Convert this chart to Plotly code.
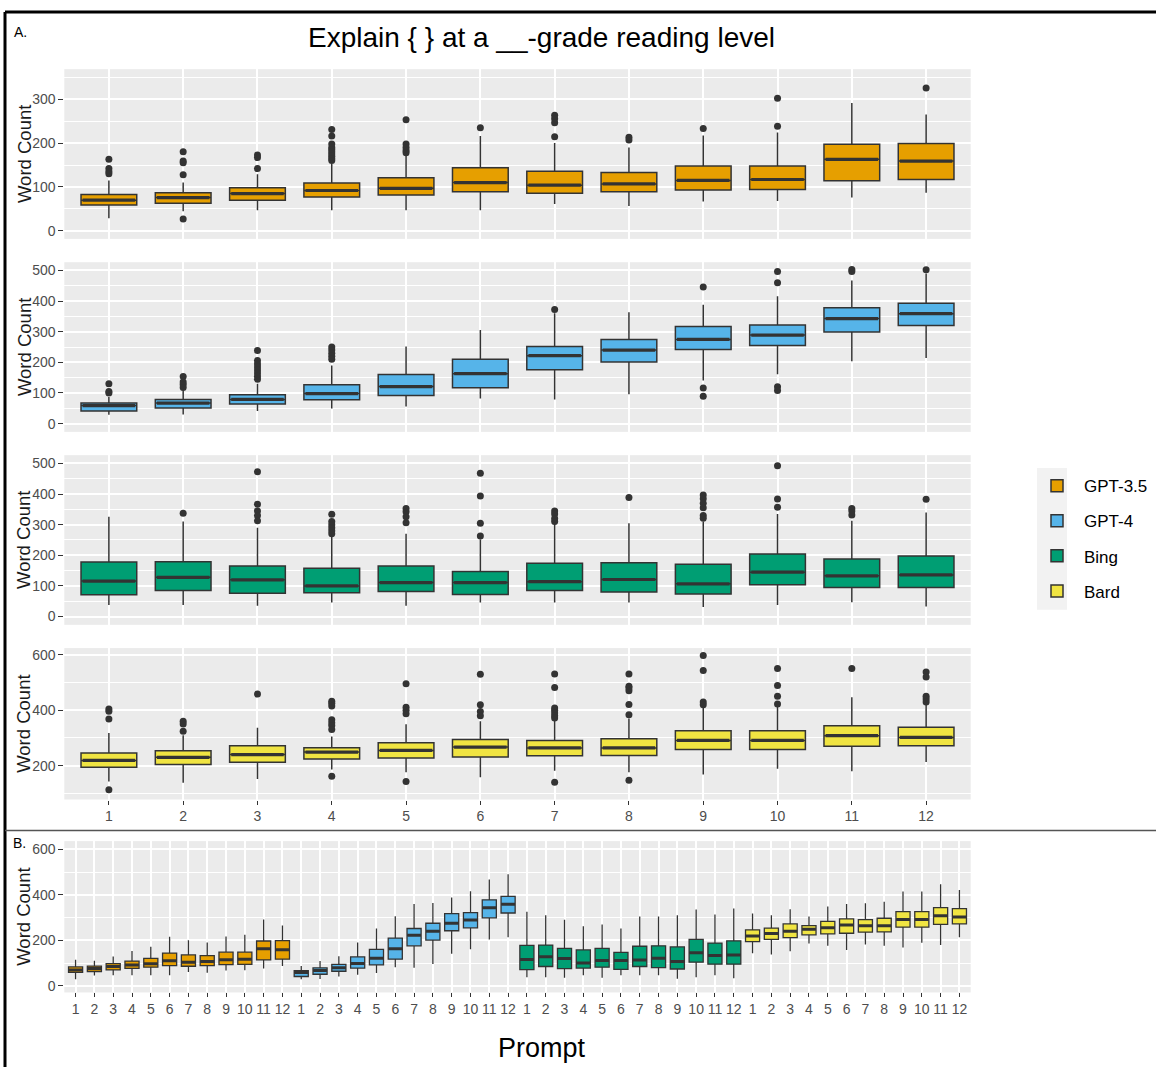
import plotly.graph_objects as go

W, H = 1156, 1068

# ---------------- data ----------------
prompts = list(range(1, 13))
models = ["GPT-3.5", "GPT-4", "Bing", "Bard"]
colors = ["#E69F00", "#56B4E9", "#009E73", "#F0E442"]

gpt35_q1 = [59, 63, 70, 77, 82, 89, 86, 89, 93, 94, 114, 117]
gpt35_med = [70, 76, 85, 92, 97, 110, 104, 107, 115, 117, 163, 159]
gpt35_q3 = [83, 87, 98, 109, 121, 144, 136, 133, 148, 148, 197, 199]
gpt35_lo = [29, 45, 47, 47, 47, 47, 61, 57, 67, 68, 76, 87]
gpt35_hi = [115, 110, 129, 153, 172, 216, 200, 190, 217, 224, 291, 265]
gpt35_out = [[163, 142, 135, 130], [180, 159, 155, 128, 27], [173, 167, 142],
             [231, 216, 198, 190, 185, 180, 175, 170, 165, 160],
             [253, 198, 190, 183, 178], [235], [263, 255, 246, 214], [213, 207],
             [233], [302, 238], [], [325]]

gpt4_q1 = [41, 51, 64, 78, 92, 117, 176, 201, 242, 255, 299, 320]
gpt4_med = [59, 67, 79, 98, 121, 163, 222, 240, 275, 289, 343, 359]
gpt4_q3 = [67, 79, 94, 127, 160, 210, 252, 275, 317, 322, 378, 393]
gpt4_lo = [29, 30, 41, 49, 56, 82, 79, 96, 141, 161, 204, 214]
gpt4_hi = [87, 109, 130, 190, 252, 306, 360, 364, 388, 416, 467, 490]
gpt4_out = [[130, 105, 100], [154, 136, 128, 118],
            [239, 206, 195, 185, 175, 165, 155, 145],
            [250, 240, 230, 220, 210], [], [], [373], [], [446, 116, 89],
            [497, 460, 120, 108], [503, 497], [502]]

bing_q1 = [71, 85, 76, 78, 82, 72, 85, 80, 74, 104, 95, 95]
bing_med = [116, 128, 120, 100, 111, 111, 114, 121, 107, 145, 133, 136]
bing_q3 = [178, 179, 165, 158, 165, 147, 174, 176, 171, 204, 188, 198]
bing_lo = [38, 38, 35, 46, 35, 46, 46, 46, 31, 38, 47, 33]
bing_hi = [326, 310, 290, 262, 270, 252, 305, 305, 310, 335, 313, 340]
bing_out = [[], [337], [473, 367, 345, 330, 313], [334, 310, 300, 290, 280, 270],
            [353, 342, 326, 306], [468, 394, 305, 263], [345, 335, 320, 310],
            [389], [397, 385, 370, 355, 330, 321], [492, 384, 357],
            [353, 345, 332], [383]]

bard_q1 = [194, 204, 212, 224, 228, 231, 236, 237, 258, 258, 270, 272]
bard_med = [219, 230, 240, 249, 255, 267, 264, 264, 291, 291, 308, 302]
bard_q3 = [246, 254, 272, 265, 283, 294, 291, 297, 326, 326, 344, 339]
bard_lo = [143, 138, 152, 186, 176, 158, 182, 176, 168, 189, 180, 213]
bard_hi = [318, 310, 337, 305, 349, 360, 363, 370, 415, 415, 447, 421]
bard_out = [[404, 396, 368, 113], [360, 350, 324], [458],
            [432, 425, 415, 366, 355, 345, 330, 162],
            [495, 411, 400, 387, 143], [530, 420, 395, 380],
            [531, 482, 408, 400, 390, 380, 372, 140],
            [531, 486, 480, 470, 421, 384, 147], [597, 543, 430, 420],
            [550, 489, 450, 422], [550], [538, 520, 450, 440, 430]]

q1s = [gpt35_q1, gpt4_q1, bing_q1, bard_q1]
meds = [gpt35_med, gpt4_med, bing_med, bard_med]
q3s = [gpt35_q3, gpt4_q3, bing_q3, bard_q3]
los = [gpt35_lo, gpt4_lo, bing_lo, bard_lo]
his = [gpt35_hi, gpt4_hi, bing_hi, bard_hi]
outs = [gpt35_out, gpt4_out, bing_out, bard_out]

# ---------------- layout geometry (pixels) ----------------
def px_x(x):
    return x / W


def px_y(y):
    return 1 - y / H


X0, X1 = 64.3, 970.7
rows_px = [(68.3, 238.3), (261.7, 431.7), (455.0, 625.0), (648.3, 800.0)]
rowB_px = (841.7, 993.3)
y_ranges = [[-18, 368], [-27, 527], [-27, 527], [78, 624]]
y_dticks = [100, 100, 100, 200]

FONT = "Liberation Sans, Arial, Helvetica, sans-serif"
BOX_LINE = "#333333"
TICK_COL = "#4D4D4D"

fig = go.Figure()

# ---------------- panel A ----------------
for i in range(4):
    ax = "" if i == 0 else str(i + 1)
    fig.add_trace(go.Box(
        x=prompts, q1=q1s[i], median=meds[i], q3=q3s[i],
        lowerfence=los[i], upperfence=his[i],
        width=0.75, whiskerwidth=0, boxpoints=False,
        fillcolor=colors[i], line=dict(color=BOX_LINE, width=1.5),
        name=models[i], legendgroup=models[i], showlegend=True,
        xaxis="x" + ax, yaxis="y" + ax, hoverinfo="skip"))
    fig.add_trace(go.Scatter(
        x=prompts, y=meds[i], mode="markers",
        marker=dict(symbol="line-ew", size=37.5, color=BOX_LINE,
                    line=dict(width=3.2, color=BOX_LINE)),
        showlegend=False, xaxis="x" + ax, yaxis="y" + ax, hoverinfo="skip"))
    ox = [p for p, o in zip(prompts, outs[i]) for _ in o]
    oy = [v for o in outs[i] for v in o]
    fig.add_trace(go.Scatter(
        x=ox, y=oy, mode="markers",
        marker=dict(size=7, color=BOX_LINE),
        showlegend=False, xaxis="x" + ax, yaxis="y" + ax, hoverinfo="skip"))

# ---------------- panel B ----------------
for i in range(4):
    xb = [p + 12 * i for p in prompts]
    fig.add_trace(go.Box(
        x=xb, q1=q1s[i], median=meds[i], q3=q3s[i],
        lowerfence=los[i], upperfence=his[i],
        width=0.75, whiskerwidth=0, boxpoints=False,
        fillcolor=colors[i], line=dict(color=BOX_LINE, width=1.3),
        name=models[i], legendgroup=models[i], showlegend=False,
        xaxis="x5", yaxis="y5", hoverinfo="skip"))
    fig.add_trace(go.Scatter(
        x=xb, y=meds[i], mode="markers",
        marker=dict(symbol="line-ew", size=9.8, color=BOX_LINE,
                    line=dict(width=3, color=BOX_LINE)),
        showlegend=False, xaxis="x5", yaxis="y5", hoverinfo="skip"))

# ---------------- axes ----------------
layout_axes = {}
for i in range(4):
    k = "" if i == 0 else str(i + 1)
    top, bot = rows_px[i]
    layout_axes["xaxis" + k] = dict(
        domain=[px_x(X0), px_x(X1)], range=[0.4, 12.6], anchor="y" + k,
        tickvals=prompts, ticktext=[str(p) for p in prompts],
        showticklabels=(i == 3), ticks="outside" if i == 3 else "",
        ticklen=4, tickcolor="#333333", tickwidth=1.2,
        tickfont=dict(size=14, color=TICK_COL, family=FONT),
        showgrid=True, gridcolor="white", gridwidth=2,
        zeroline=False, showline=False, fixedrange=True)
    layout_axes["yaxis" + k] = dict(
        domain=[px_y(bot), px_y(top)], range=y_ranges[i], anchor="x" + k,
        dtick=y_dticks[i], tick0=0, ticks="outside", ticklen=5,
        tickcolor="#333333", tickwidth=1.2, ticklabelstandoff=0,
        tickfont=dict(size=14, color=TICK_COL, family=FONT),
        showgrid=True, gridcolor="white", gridwidth=2,
        minor=dict(dtick=y_dticks[i] / 2, tick0=0, showgrid=True,
                   gridcolor="white", gridwidth=1, ticks=""),
        zeroline=False, showline=False, fixedrange=True)

xb_vals = list(range(1, 49))
layout_axes["xaxis5"] = dict(
    domain=[px_x(X0), px_x(X1)], range=[0.4, 48.6], anchor="y5",
    tickvals=xb_vals, ticktext=[str(p) for _ in models for p in prompts],
    ticks="outside", ticklen=4, tickcolor="#333333", tickwidth=1.2,
    tickfont=dict(size=14, color=TICK_COL, family=FONT),
    showgrid=True, gridcolor="white", gridwidth=2,
    zeroline=False, showline=False, fixedrange=True)
layout_axes["yaxis5"] = dict(
    domain=[px_y(rowB_px[1]), px_y(rowB_px[0])], range=[-29, 636], anchor="x5",
    dtick=200, tick0=0, ticks="outside", ticklen=5, tickcolor="#333333",
    tickwidth=1.2, ticklabelstandoff=0,
    tickfont=dict(size=14, color=TICK_COL, family=FONT),
    showgrid=True, gridcolor="white", gridwidth=2,
    minor=dict(dtick=100, tick0=0, showgrid=True, gridcolor="white",
               gridwidth=1, ticks=""),
    zeroline=False, showline=False, fixedrange=True)

# ---------------- annotations ----------------
annotations = [
    dict(text="Explain { } at a __-grade reading level", x=px_x(541), y=px_y(37),
         font=dict(size=28, color="black", family=FONT)),
    dict(text="A.", x=px_x(12), y=px_y(31), xanchor="left",
         font=dict(size=14, color="black", family=FONT)),
    dict(text="B.", x=px_x(11), y=px_y(844), xanchor="left",
         font=dict(size=14, color="black", family=FONT)),
    dict(text="Prompt", x=px_x(542), y=px_y(1049),
         font=dict(size=27, color="black", family=FONT)),
]
for top, bot in rows_px + [rowB_px]:
    annotations.append(dict(
        text="Word Count", x=px_x(24), y=px_y((top + bot) / 2), textangle=-90,
        font=dict(size=18.5, color="#1A1A1A", family=FONT)))
for a in annotations:
    a.update(xref="paper", yref="paper", showarrow=False)
    a.setdefault("xanchor", "center")
    a.setdefault("yanchor", "middle")

# ---------------- frame shapes ----------------
shapes = [
    dict(type="line", x0=px_x(5), x1=1.0, y0=px_y(11), y1=px_y(11),
         line=dict(color="black", width=3)),
    dict(type="line", x0=px_x(5), x1=px_x(5), y0=px_y(11), y1=0,
         line=dict(color="black", width=3)),
    dict(type="line", x0=px_x(5), x1=1.0, y0=px_y(831), y1=px_y(831),
         line=dict(color="#555555", width=1.5)),
    dict(type="rect", x0=px_x(1037), x1=px_x(1067), y0=px_y(610), y1=px_y(468),
         fillcolor="#F2F2F2", line=dict(width=0), layer="below"),
]
for s in shapes:
    s.update(xref="paper", yref="paper")

fig.update_layout(
    width=W, height=H,
    margin=dict(l=0, r=0, t=0, b=0),
    paper_bgcolor="white", plot_bgcolor="#EBEBEB",
    font=dict(family=FONT),
    hovermode=False,
    annotations=annotations, shapes=shapes,
    legend=dict(x=px_x(1030), y=px_y(468), xanchor="left", yanchor="top",
                traceorder="grouped", tracegroupgap=10, itemwidth=44,
                font=dict(size=17, color="black", family=FONT),
                bgcolor="rgba(0,0,0,0)", itemclick=False, itemdoubleclick=False),
    **layout_axes,
)

fig.write_html(
    "out.html",
    config={"displayModeBar": False},
    post_script="document.body.style.margin='0';document.body.style.overflow='hidden';",
)
